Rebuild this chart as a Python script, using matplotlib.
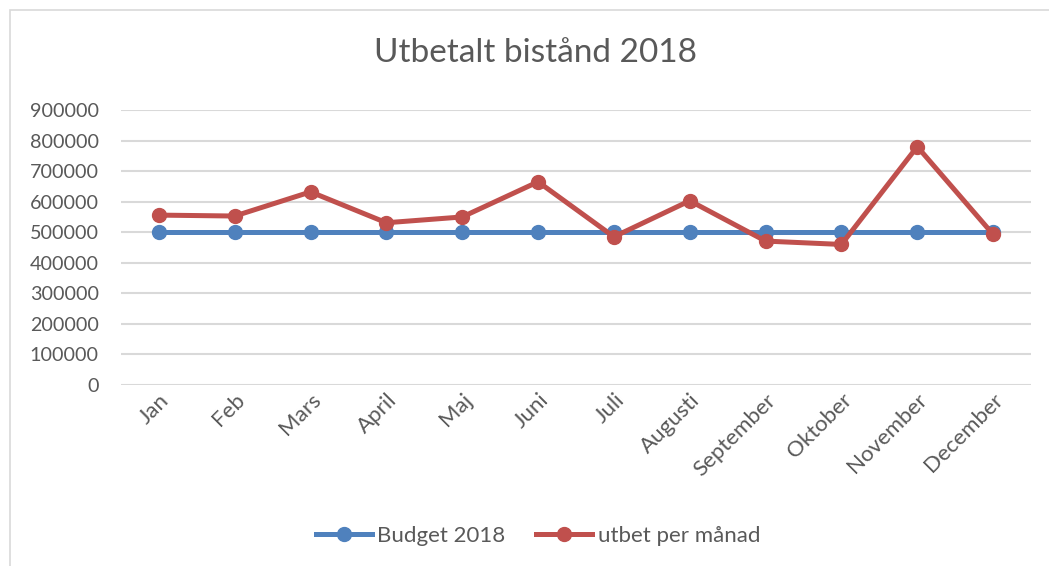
import matplotlib.pyplot as plt
import matplotlib.transforms as mtransforms
from matplotlib.patches import Rectangle

months = ["Jan", "Feb", "Mars", "April", "Maj", "Juni", "Juli", "Augusti",
          "September", "Oktober", "November", "December"]
budget = [500000] * 12
utbet = [556000, 553000, 632000, 531000, 550000, 665000,
         485000, 603000, 471000, 460000, 780000, 493000]
yticks = [0, 100000, 200000, 300000, 400000, 500000, 600000, 700000, 800000, 900000]

plt.rcParams['font.family'] = ['Lato', 'DejaVu Sans']
grey = '#595959'

fig = plt.figure(figsize=(10.49, 5.66), dpi=100)
ax = fig.add_axes([121 / 1049, 1 - 385 / 566, (1031 - 121) / 1049, (385 - 110) / 566])

x = list(range(len(months)))
ax.plot(x, budget, color='#4F81BD', lw=3.6, marker='o', ms=10, label='Budget 2018', zorder=3)
ax.plot(x, utbet, color='#C0504D', lw=3.6, marker='o', ms=10, label='utbet per månad', zorder=4)

ax.set_xlim(-0.5, len(months) - 0.5)
ax.set_ylim(0, 900000)
ax.set_yticks(yticks)
ax.set_yticklabels([str(v) for v in yticks])
ax.set_xticks(x)
ax.set_xticklabels(months, rotation=45, ha='right', rotation_mode='anchor')
offset = mtransforms.ScaledTranslation(0.1, -0.16, fig.dpi_scale_trans)
for lab in ax.get_xticklabels():
    lab.set_transform(lab.get_transform() + offset)

ax.tick_params(axis='both', length=0, labelcolor=grey)
ax.tick_params(axis='y', pad=16, labelsize=14.2)
ax.tick_params(axis='x', labelsize=16)
ax.grid(axis='y', color='#D9D9D9', lw=1.5)
ax.set_axisbelow(True)
for s in ax.spines.values():
    s.set_visible(False)

fig.text(535 / 1049, 1 - 53 / 566, "Utbetalt bistånd 2018", ha='center', va='center',
         fontsize=24, color=grey)

fig.legend(loc='center', bbox_to_anchor=(538 / 1049, 1 - 536 / 566), ncol=2, frameon=False,
           fontsize=16, labelcolor=grey, handlelength=2.5, columnspacing=1.4, handletextpad=0.25)

fig.patches.append(Rectangle((10 / 1049, -0.1), 1.2, 1 - 10 / 566 + 0.1,
                             transform=fig.transFigure, fill=False, edgecolor='#D9D9D9', lw=1.2))

fig.savefig('out.png', dpi=100)
